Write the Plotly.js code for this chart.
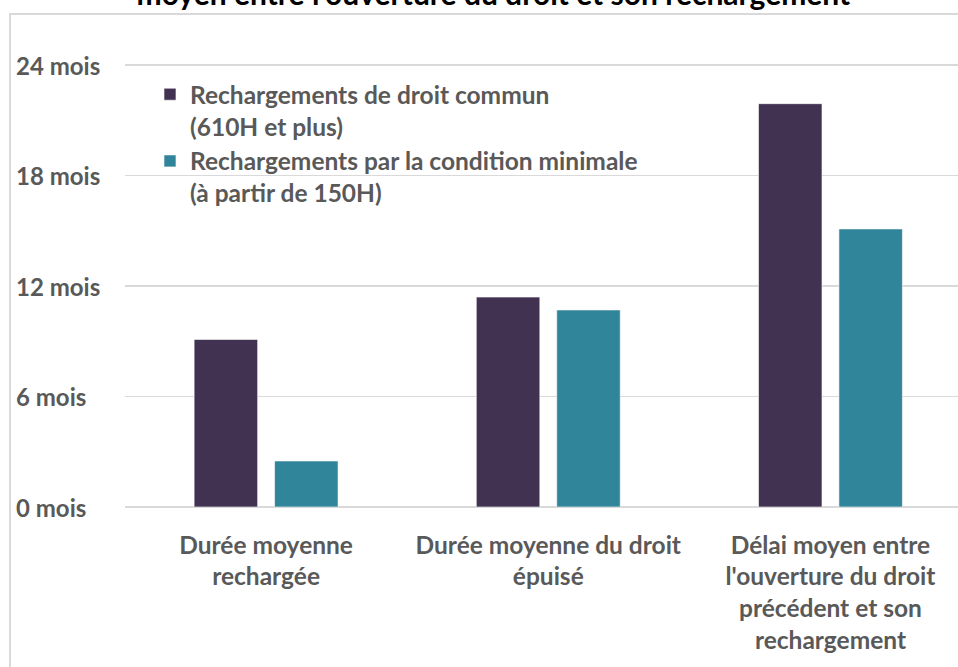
<!DOCTYPE html>
<html>
<head>
<meta charset="utf-8">
<script src="https://cdn.plot.ly/plotly-3.0.1.min.js"></script>
<style>html,body{margin:0;padding:0;background:#fff;overflow:hidden}</style>
</head>
<body>
<div id="chart" style="width:958px;height:667px"></div>
<script>
const categories = [
  "Durée moyenne<br>rechargée",
  "Durée moyenne du droit<br>épuisé",
  "Délai moyen entre<br>l'ouverture du droit<br>précédent et son<br>rechargement"
];
const seriesNames = [
  "Rechargements de droit commun<br>(610H et plus)",
  "Rechargements par la condition minimale<br>(à partir de 150H)"
];
const droitCommun = [9.1, 11.4, 21.9];
const conditionMinimale = [2.5, 10.7, 15.1];
const yTickValues = [0, 6, 12, 18, 24];
const yTickLabels = ["0 mois", "6 mois", "12 mois", "18 mois", "24 mois"];
const titleText = "moyen entre l'ouverture du droit et son rechargement";

const FONT = "Lato, 'Open Sans', sans-serif";
const GREY = "#595959";

const traces = [
  {type: "bar", name: seriesNames[0], x: categories, y: droitCommun,
   marker: {color: "#413252", line: {color: "rgba(255,255,255,0.6)", width: 1}}, hoverinfo: "skip"},
  {type: "bar", name: seriesNames[1], x: categories, y: conditionMinimale,
   marker: {color: "#31859b", line: {color: "rgba(255,255,255,0.6)", width: 1}}, hoverinfo: "skip"}
];

const annotations = yTickValues.map((v, i) => ({
  xref: "paper", yref: "y", x: -0.133, y: v, xanchor: "left", yanchor: "middle",
  text: yTickLabels[i], showarrow: false,
  font: {family: FONT, size: 24, color: GREY, weight: "bold"}
}));

const layout = {
  width: 958, height: 667,
  margin: {l: 125, r: 0, t: 44, b: 160},
  paper_bgcolor: "#fff", plot_bgcolor: "#fff",
  title: {
    text: titleText, x: 0.515, xanchor: "center",
    yref: "container", y: 0.993, yanchor: "bottom",
    font: {family: FONT, size: 30, color: "#000", weight: "bold"}
  },
  barmode: "group", bargap: 0.43, bargroupgap: 0.21,
  xaxis: {
    type: "category", range: [-0.5, 2.452], showgrid: false, zeroline: false,
    showline: false, ticks: "", ticklabelstandoff: 21,
    tickfont: {family: FONT, size: 24.5, color: GREY, weight: "bold"}
  },
  yaxis: {
    range: [0, 25.14], tickvals: yTickValues, showticklabels: false,
    showgrid: true, gridcolor: "#d9d9d9", gridwidth: 1.5,
    zeroline: true, zerolinecolor: "#d9d9d9", zerolinewidth: 1.5, showline: false
  },
  showlegend: true,
  legend: {
    x: 0.03, y: 0.94, xanchor: "left", yanchor: "top",
    bgcolor: "rgba(0,0,0,0)", valign: "top", tracegroupgap: 0,
    font: {family: FONT, size: 24.5, color: GREY, weight: "bold"}
  },
  annotations: annotations,
  shapes: [{
    type: "rect", xref: "paper", yref: "paper",
    x0: -0.138, x1: 1.2, y0: -0.6, y1: 1.0648,
    line: {color: "#d9d9d9", width: 2}, fillcolor: "rgba(0,0,0,0)", layer: "below"
  }]
};

Plotly.newPlot("chart", traces, layout, {displayModeBar: false, staticPlot: true});
</script>
</body>
</html>
